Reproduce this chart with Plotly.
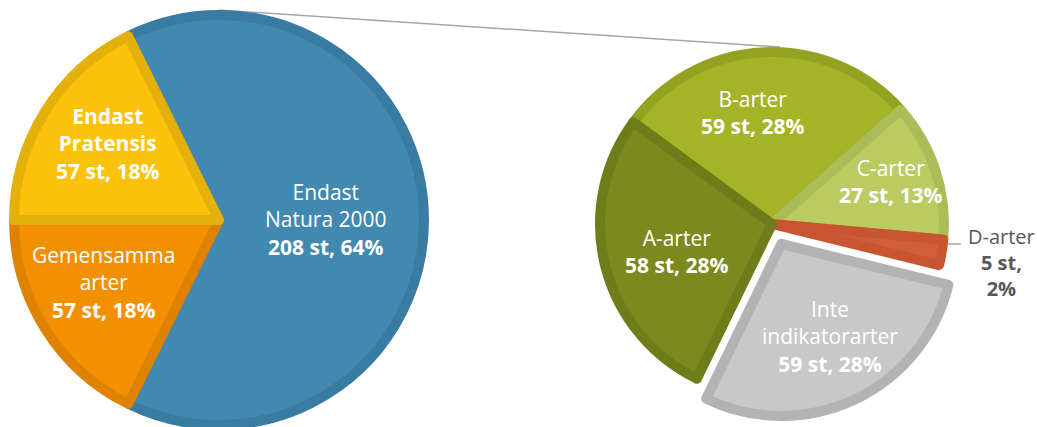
import math
import plotly.graph_objects as go

W, H = 1037, 427

# ---- data ----
left_names = ["Endast<br>Natura 2000", "Gemensamma<br>arter", "Endast<br>Pratensis"]
left_values = [208, 57, 57]
left_pct = [64, 18, 18]
left_bold_name = [False, False, True]

right_names = ["B-arter", "C-arter", "D-arter", "Inte<br>indikatorarter", "A-arter"]
right_values = [59, 27, 5, 59, 58]
right_pct = [28, 13, 2, 28, 28]
right_pull = [0, 0, 0, 0.128, 0]

# ---- styles ----
left_colors = ["#4189B0", "#F39000", "#FBC10B"]
left_line = ["#3A7BA1", "#DE8200", "#E4B00A"]
right_colors = ["#A5B426", "#BBCB62", "#D05E36", "#C8C8C8", "#7B891E"]
right_line = ["#94A221", "#ABBC58", "#C85530", "#B3B3B3", "#6F7C1A"]
LW = 10
FONT = "Open Sans"
FS = 21
# label placement (fraction of radius, angle tweak in degrees)
left_lab_r = [0.52, 0.64, 0.66]
left_lab_da = [0, 3.4, 2.4]
right_lab_r = [0.66, 0.73, 1.35, 0.61, 0.58]
right_lab_da = [-7, -1.4, 0, -2, -2]
right_lab_color = ["white", "white", "#595959", "white", "white"]
right_lab_size = [FS, FS, 20, FS, FS]

LROT, RROT = -26.3, -53.7


def make_text(name, v, p, bold_name=False, split=False):
    vals = f"{v} st,<br>{p}%" if split else f"{v} st, {p}%"
    if bold_name:
        return f"<b>{name}<br>{vals}</b>"
    return f"{name}<br><b>{vals}</b>"


left_text = [make_text(n, v, p, b) for n, v, p, b in zip(left_names, left_values, left_pct, left_bold_name)]
right_text = [make_text(n, v, p, split=(v < 10)) for n, v, p in zip(right_names, right_values, right_pct)]

# geometry (pixels)
Lcx, Lcy, Lr = 219, 220, 205
Rcx, Rcy, Rr = 772, 224, 172
Rhalf = Rr * (1 + max(right_pull))


def dom(cx, cy, half):
    return dict(x=[(cx - half) / W, (cx + half) / W], y=[1 - (cy + half) / H, 1 - (cy - half) / H])


def mids(values, rot):
    tot = sum(values)
    out, cum = [], 0
    for v in values:
        out.append(rot + 360 * (cum + v / 2) / tot)
        cum += v
    return out


def polar(cx, cy, r, ang):
    a = math.radians(ang)
    return cx + r * math.sin(a), cy - r * math.cos(a)


fig = go.Figure()
fig.add_trace(go.Pie(
    labels=[n.replace("<br>", " ") for n in left_names], values=left_values,
    textinfo="none", sort=False, direction="clockwise", rotation=LROT,
    marker=dict(colors=left_colors, line=dict(color=left_line, width=LW)),
    domain=dom(Lcx, Lcy, Lr), hoverinfo="skip", showlegend=False, automargin=False,
))
fig.add_trace(go.Pie(
    labels=[n.replace("<br>", " ") for n in right_names], values=right_values,
    textinfo="none", sort=False, direction="clockwise", rotation=RROT,
    pull=right_pull,
    marker=dict(colors=right_colors, line=dict(color=right_line, width=LW)),
    domain=dom(Rcx, Rcy, Rhalf), hoverinfo="skip", showlegend=False, automargin=False,
))


def add_label(cx, cy, r, ang, frac, pull, text, color, size):
    x, y = polar(cx, cy, r * (frac + pull), ang)
    fig.add_annotation(x=x / W, y=1 - y / H, xref="paper", yref="paper", text=text,
                       showarrow=False, xanchor="center", yanchor="middle", align="center",
                       font=dict(family=FONT, size=size, color=color))


for t, m, f, da in zip(left_text, mids(left_values, LROT), left_lab_r, left_lab_da):
    add_label(Lcx, Lcy, Lr, m + da, f, 0, t, "white", FS)

rmids = mids(right_values, RROT)
for t, m, f, da, p, c, s in zip(right_text, rmids, right_lab_r, right_lab_da, right_pull,
                                right_lab_color, right_lab_size):
    add_label(Rcx, Rcy, Rr, m + da, f, p, t, c, s)

# leader line for the small slice (outside label)
for v, m, c in zip(right_values, rmids, right_lab_color):
    if c != "white":
        x0, y0 = polar(Rcx, Rcy, Rr + LW / 2, m - 3)
        fig.add_shape(type="line", xref="paper", yref="paper",
                      x0=x0 / W, y0=1 - y0 / H, x1=(x0 + 13) / W, y1=1 - y0 / H,
                      line=dict(color="#A6A6A6", width=1.5))

# connector line from top of left pie to top of right pie
fig.add_shape(type="line", xref="paper", yref="paper",
              x0=Lcx / W, y0=1 - (Lcy - Lr - LW / 2) / H,
              x1=(Rcx + 8) / W, y1=1 - (Rcy - Rr - LW / 2) / H,
              line=dict(color="#A6A6A6", width=1.5), layer="below")

fig.update_layout(width=W, height=H, margin=dict(l=0, r=0, t=0, b=0, autoexpand=False),
                  showlegend=False,
                  paper_bgcolor="white", plot_bgcolor="white",
                  font=dict(family=FONT))
fig.write_html("out.html")
